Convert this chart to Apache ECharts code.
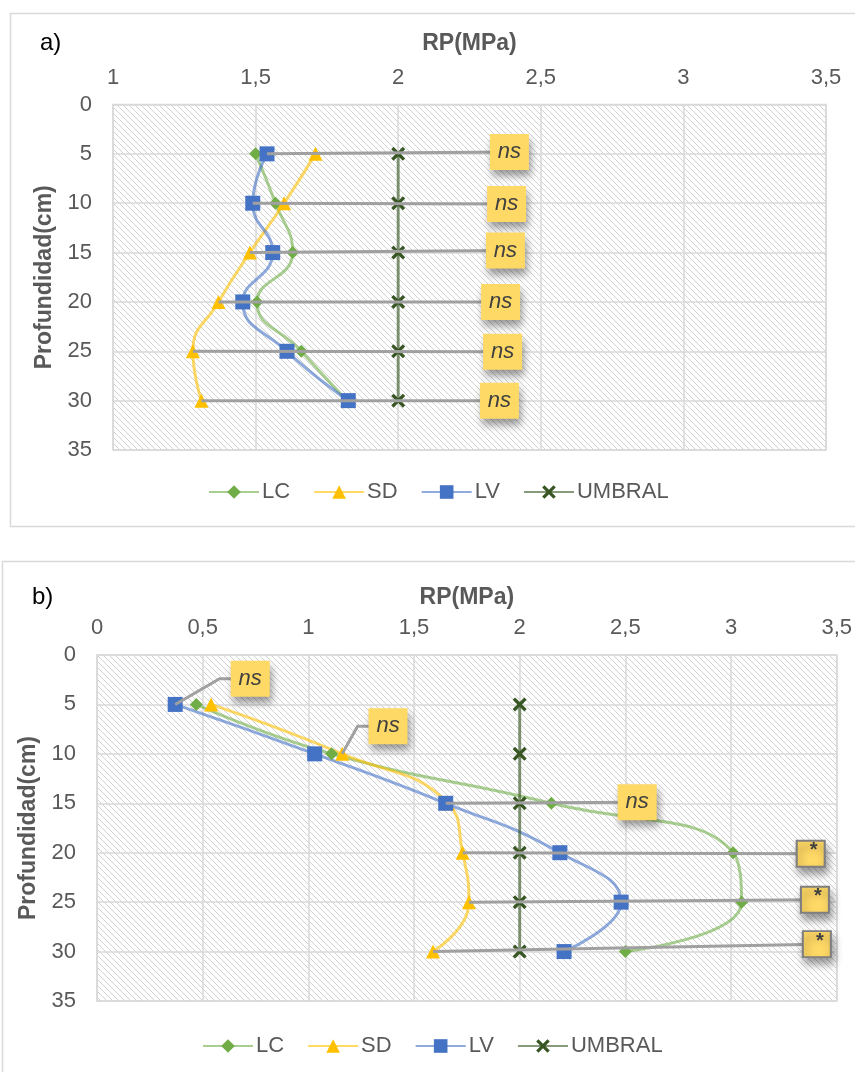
<!DOCTYPE html>
<html>
<head>
<meta charset="utf-8">
<script src="https://cdn.jsdelivr.net/npm/echarts@6/dist/echarts.min.js"></script>
<style>
  html, body { margin: 0; padding: 0; background: #fff; }
  #chart { width: 855px; height: 1072px; }
</style>
</head>
<body>
<div id="chart"></div>
<script>
// Depth levels (cm) and penetration resistance RP (MPa) per treatment
const depths = [5, 10, 15, 20, 25, 30];

// a)
const lcA = [1.50, 1.57, 1.63, 1.505, 1.66, 1.82];
const sdA = [1.71, 1.60, 1.48, 1.37, 1.28, 1.31];
const lvA = [1.54, 1.49, 1.56, 1.455, 1.61, 1.825];
const umbralA = [2, 2, 2, 2, 2, 2];
const sigA = ['ns', 'ns', 'ns', 'ns', 'ns', 'ns'];

// b)
const lcB = [0.47, 1.11, 2.15, 3.01, 3.05, 2.50];
const sdB = [0.54, 1.16, 1.66, 1.73, 1.76, 1.59];
const lvB = [0.37, 1.03, 1.65, 2.19, 2.48, 2.21];
const umbralB = [2, 2, 2, 2, 2, 2];
const sigB = ['ns', 'ns', 'ns', '*', '*', '*'];

const seriesNames = ['LC', 'SD', 'LV', 'UMBRAL'];

// Callout placement (axis units): which series the leader starts at, and where the box sits
const calloutFromA = ['LV', 'LV', 'SD', 'SD', 'SD', 'SD'];
const calloutXA = [2.39, 2.38, 2.376, 2.359, 2.366, 2.355];
const calloutYA = [4.8, 10.07, 14.8, 20.0, 25.05, 30.0];
const calloutFromB = ['LV', 'SD', 'LV', 'SD', 'SD', 'SD'];
const calloutXB = [0.725, 1.377, 2.556, 3.377, 3.397, 3.406];
const calloutYB = [2.4, 7.2, 14.9, 20.1, 24.75, 29.25];
const calloutKneeXB = [0.58, 1.233, null, null, null, null];

const FONT = "'Liberation Sans', Arial, sans-serif";
const TXT = '#595959';

// diagonal hatch used as plot-area fill
function hatch() {
  const s = 6;
  const c = document.createElement('canvas');
  c.width = s; c.height = s;
  const g = c.getContext('2d');
  g.fillStyle = '#ffffff';
  g.fillRect(0, 0, s, s);
  g.strokeStyle = '#d2d2d2';
  g.lineWidth = 1;
  g.beginPath();
  g.moveTo(-1, -1); g.lineTo(s + 1, s + 1);
  g.moveTo(-1, s - 1); g.lineTo(1, s + 1);
  g.moveTo(s - 1, -1); g.lineTo(s + 1, 1);
  g.stroke();
  return c;
}
const hatchFill = { image: hatch(), repeat: 'repeat' };

const X_PATH = 'path://M0,2L2,0L6,4L10,0L12,2L8,6L12,10L10,12L6,8L2,12L0,10L4,6Z';
const style = {
  LC: { color: '#70AD47', line: 'rgba(112,173,71,0.6)', symbol: 'diamond', size: 13 },
  SD: { color: '#FFC000', line: 'rgba(255,192,0,0.6)', symbol: 'triangle', size: 14 },
  LV: { color: '#4472C4', line: 'rgba(68,114,196,0.6)', symbol: 'rect', size: 15 },
  UMBRAL: { color: '#375623', line: 'rgba(55,86,35,0.6)', symbol: X_PATH, size: 14 }
};

function lineSeries(name, vals, idx) {
  const st = style[name];
  return {
    type: 'line', name, xAxisIndex: idx, yAxisIndex: idx,
    data: vals.map((v, i) => [v, depths[i]]),
    smooth: 0.5,
    symbol: st.symbol, symbolSize: st.size,
    lineStyle: { color: st.line, width: 3 },
    itemStyle: { color: st.color, opacity: 1 },
    z: 2, silent: true, animation: false
  };
}

function callouts(idx, byName, from, xs, ys, texts, knees) {
  const leaders = texts.map((t, i) => {
    const x0 = byName[from[i]][i];
    const pts = [[x0, depths[i]]];
    if (knees && knees[i] != null) pts.push([knees[i], ys[i]]);
    pts.push([xs[i], ys[i]]);
    return { coords: pts };
  });
  const boxes = texts.map((t, i) => {
    const star = t === '*';
    return {
      value: [xs[i], ys[i]],
      symbolSize: star ? [28, 26] : [39, 36],
      itemStyle: star ? { borderColor: '#7F7F7F', borderWidth: 2 } : { borderWidth: 0 },
      label: star
        ? { fontSize: 20, fontWeight: 'bold', offset: [3, -3], fontStyle: 'normal', color: '#404040' }
        : {}
    };
  });
  return [
    {
      type: 'lines', coordinateSystem: 'cartesian2d', xAxisIndex: idx, yAxisIndex: idx,
      polyline: true, data: leaders,
      lineStyle: { color: '#A0A0A0', width: 3, opacity: 1, curveness: 0 },
      z: 5, silent: true, animation: false
    },
    {
      type: 'scatter', xAxisIndex: idx, yAxisIndex: idx,
      symbol: 'rect', data: boxes,
      itemStyle: {
        color: '#FFD966', opacity: 1, shadowBlur: 8, shadowColor: 'rgba(0,0,0,0.4)',
        shadowOffsetX: 2, shadowOffsetY: 6
      },
      label: {
        show: true, position: 'inside',
        formatter: p => texts[p.dataIndex],
        fontFamily: FONT, fontSize: 22, fontStyle: 'italic', color: '#404040'
      },
      z: 6, silent: true, animation: false
    }
  ];
}

const comma = v => String(v).replace('.', ',');

function xAxis(idx, min, gap) {
  return {
    type: 'value', gridIndex: idx, position: 'top', min, max: 3.5, interval: 0.5,
    name: 'RP(MPa)', nameLocation: 'middle', nameGap: gap,
    nameTextStyle: { fontFamily: FONT, fontSize: 23, fontWeight: 'bold', color: TXT },
    axisLine: { show: false }, axisTick: { show: false },
    axisLabel: { formatter: comma, fontFamily: FONT, fontSize: 22, color: TXT, margin: 16 },
    splitLine: { lineStyle: { color: '#d9d9d9', width: 1.5 } }
  };
}
function yAxis(idx) {
  return {
    type: 'value', gridIndex: idx, inverse: true, min: 0, max: 35, interval: 5,
    name: 'Profundidad(cm)', nameLocation: 'middle', nameGap: 55,
    nameTextStyle: { fontFamily: FONT, fontSize: 23, fontWeight: 'bold', color: TXT },
    axisLine: { show: false }, axisTick: { show: false },
    axisLabel: { fontFamily: FONT, fontSize: 22, color: TXT, margin: 21 },
    splitLine: { lineStyle: { color: '#d9d9d9', width: 1.5 } }
  };
}
function legend(top, left) {
  return {
    top, left, padding: 0, itemWidth: 50, itemHeight: 17, itemGap: 23,
    selectedMode: false, data: seriesNames,
    textStyle: { fontFamily: FONT, fontSize: 22, color: TXT, padding: [0, 0, 0, -2] }
  };
}

const namedA = { LC: lcA, SD: sdA, LV: lvA, UMBRAL: umbralA };
const namedB = { LC: lcB, SD: sdB, LV: lvB, UMBRAL: umbralB };

const option = {
  backgroundColor: '#ffffff',
  animation: false,
  textStyle: { fontFamily: FONT },
  grid: [
    { left: 113, top: 104.5, width: 713, height: 345.5, show: true,
      backgroundColor: hatchFill, borderColor: '#d9d9d9', borderWidth: 1.5 },
    { left: 97, top: 655, width: 741, height: 346, show: true,
      backgroundColor: hatchFill, borderColor: '#d9d9d9', borderWidth: 1.5 }
  ],
  xAxis: [xAxis(0, 1, 49), xAxis(1, 0, 46)],
  yAxis: [yAxis(0), yAxis(1)],
  legend: [legend(481, 208), legend(1035, 202)],
  graphic: [
    { type: 'rect', silent: true, shape: { x: 10.5, y: 13.5, width: 900, height: 513 },
      style: { fill: 'none', stroke: '#d9d9d9', lineWidth: 1.5 } },
    { type: 'rect', silent: true, shape: { x: 2.5, y: 561.5, width: 900, height: 600 },
      style: { fill: 'none', stroke: '#d9d9d9', lineWidth: 1.5 } },
    { type: 'text', left: 40, top: 31, silent: true,
      style: { text: 'a)', fontFamily: FONT, fontSize: 24, fill: '#000' } },
    { type: 'text', left: 32, top: 585, silent: true,
      style: { text: 'b)', fontFamily: FONT, fontSize: 24, fill: '#000' } }
  ],
  series: [
    ...seriesNames.map(n => lineSeries(n, namedA[n], 0)),
    ...seriesNames.map(n => lineSeries(n, namedB[n], 1)),
    ...callouts(0, namedA, calloutFromA, calloutXA, calloutYA, sigA, null),
    ...callouts(1, namedB, calloutFromB, calloutXB, calloutYB, sigB, calloutKneeXB)
  ]
};

const chart = echarts.init(document.getElementById('chart'), null, { renderer: 'canvas' });
chart.setOption(option);
</script>
</body>
</html>
